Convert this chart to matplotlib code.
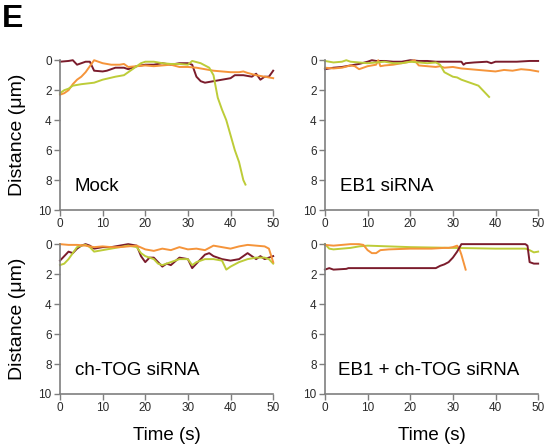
import numpy as np
import matplotlib.pyplot as plt

plt.rcParams['font.family'] = ['Liberation Sans', 'DejaVu Sans']

dark_red = '#7b1c2c'
orange = '#f5943a'
lime = '#bdcc38'

# Mock
mock_red_t = [0, 2, 3, 4, 5, 6, 7, 8, 10, 11, 13, 15, 16, 18, 20, 22, 24, 26, 28, 30, 31, 32, 33, 34, 36, 38, 40, 41, 43, 45, 46, 47, 48, 49, 50]
mock_red_d = [0.1, 0.05, 0.0, 0.3, 0.2, 0.1, 0.1, 0.7, 0.75, 0.7, 0.5, 0.5, 0.6, 0.4, 0.3, 0.3, 0.2, 0.3, 0.2, 0.2, 0.3, 1.1, 1.4, 1.5, 1.4, 1.3, 1.2, 1.0, 1.0, 1.1, 0.9, 1.3, 1.1, 1.1, 0.7]
mock_org_t = [0, 1, 2, 3, 4, 5, 6, 7, 8, 9, 10, 12, 14, 15, 16, 18, 20, 22, 24, 26, 28, 30, 32, 34, 36, 38, 40, 42, 43, 44, 46, 48, 50]
mock_org_d = [2.3, 2.2, 2.0, 1.6, 1.3, 1.1, 0.8, 0.4, 0.0, 0.1, 0.2, 0.3, 0.3, 0.25, 0.45, 0.4, 0.35, 0.4, 0.35, 0.3, 0.45, 0.45, 0.5, 0.6, 0.7, 0.75, 0.8, 0.8, 0.75, 0.85, 1.0, 1.1, 1.2]
mock_lim_t = [0, 1, 2, 3, 5, 8, 10, 13, 15, 16, 17, 18, 19, 20, 22, 24, 26, 28, 30, 31, 33, 35, 36, 37, 38, 39, 40, 41, 42, 43, 43.5]
mock_lim_d = [2.2, 2.0, 1.9, 1.7, 1.6, 1.5, 1.3, 1.1, 1.0, 0.8, 0.6, 0.4, 0.2, 0.1, 0.1, 0.2, 0.25, 0.25, 0.3, 0.05, 0.2, 0.5, 1.0, 2.5, 3.3, 4.0, 5.0, 6.0, 6.8, 8.0, 8.3]

# EB1 siRNA
eb1_red_t = [0, 2, 4, 6, 8, 10, 11, 12, 14, 16, 18, 20, 22, 24, 26, 28, 30, 32, 32.5, 33, 35, 38, 39, 40, 42, 45, 48, 50]
eb1_red_d = [0.6, 0.5, 0.45, 0.35, 0.25, 0.1, 0.0, 0.05, 0.05, 0.1, 0.1, 0.0, 0.05, 0.05, 0.1, 0.1, 0.1, 0.1, 0.3, 0.2, 0.15, 0.1, 0.2, 0.1, 0.1, 0.1, 0.05, 0.05]
eb1_org_t = [0, 2, 4, 6, 7, 8, 9, 10, 12, 12.5, 13, 14, 16, 18, 20, 21, 22, 24, 26, 27, 28, 30, 32, 34, 36, 38, 40, 42, 44, 46, 48, 50]
eb1_org_d = [0.5, 0.55, 0.5, 0.35, 0.4, 0.6, 0.5, 0.4, 0.3, 0.0, 0.4, 0.35, 0.3, 0.2, 0.1, 0.0, 0.35, 0.4, 0.45, 0.4, 0.5, 0.45, 0.55, 0.6, 0.65, 0.7, 0.75, 0.65, 0.7, 0.6, 0.65, 0.75]
eb1_lim_t = [0, 2, 4, 5, 6, 8, 10, 12, 14, 16, 18, 20, 22, 24, 26, 27, 28, 30, 31, 32, 34, 36, 37, 38, 38.5]
eb1_lim_d = [0.05, 0.15, 0.1, 0.0, 0.1, 0.15, 0.2, 0.15, 0.1, 0.2, 0.2, 0.1, 0.15, 0.2, 0.15, 0.3, 0.8, 1.1, 1.15, 1.3, 1.5, 1.7, 2.0, 2.3, 2.45]

# ch-TOG siRNA
tog_org_t = [0, 2, 4, 6, 8, 10, 12, 14, 16, 18, 20, 22, 24, 26, 28, 30, 32, 34, 36, 38, 40, 42, 44, 46, 48, 49, 50]
tog_org_d = [0.0, 0.05, 0.05, 0.1, 0.2, 0.15, 0.2, 0.2, 0.15, 0.1, 0.35, 0.45, 0.3, 0.4, 0.2, 0.35, 0.3, 0.4, 0.1, 0.2, 0.3, 0.15, 0.05, 0.1, 0.15, 0.3, 1.2]
tog_red_t = [0, 1, 2, 3, 4, 5, 6, 7, 8, 10, 12, 14, 16, 18, 19, 20, 21, 22, 24, 25, 26, 28, 30, 31, 32, 34, 35, 36, 38, 40, 42, 44, 46, 47, 48, 50]
tog_red_d = [1.1, 0.8, 0.5, 0.6, 0.3, 0.1, 0.0, 0.1, 0.3, 0.2, 0.2, 0.1, 0.0, 0.1, 0.8, 1.2, 0.9, 0.9, 1.5, 1.3, 1.4, 0.9, 1.0, 1.6, 1.3, 0.7, 0.6, 0.8, 1.0, 1.1, 1.0, 0.6, 1.0, 0.8, 1.0, 0.8]
tog_lim_t = [0, 1, 2, 3, 4, 5, 6, 7, 8, 10, 12, 14, 16, 18, 19, 20, 22, 23, 24, 26, 28, 30, 31, 32, 34, 36, 38, 39, 40, 42, 44, 46, 48, 49, 50]
tog_lim_d = [1.4, 1.3, 1.0, 0.6, 0.2, 0.1, 0.05, 0.2, 0.5, 0.4, 0.3, 0.2, 0.1, 0.2, 0.6, 0.8, 1.0, 1.3, 1.4, 1.2, 1.0, 1.0, 1.4, 1.2, 1.0, 1.0, 1.1, 1.7, 1.5, 1.2, 1.0, 0.9, 0.9, 1.0, 1.3]

# EB1 + ch-TOG siRNA
dbl_lim_t = [0, 1, 2, 4, 6, 8, 10, 15, 20, 30, 40, 47, 48, 49, 50]
dbl_lim_d = [0.0, 0.3, 0.35, 0.3, 0.25, 0.15, 0.1, 0.15, 0.2, 0.25, 0.3, 0.3, 0.4, 0.55, 0.5]
dbl_org_t = [0, 2, 4, 6, 8, 9, 10, 11, 12, 13, 15, 20, 25, 28, 29, 30, 31, 31.5, 32, 32.5, 33]
dbl_org_d = [0.05, 0.1, 0.05, 0.0, 0.0, 0.05, 0.4, 0.6, 0.6, 0.4, 0.35, 0.3, 0.3, 0.25, 0.25, 0.2, 0.1, 0.3, 0.7, 1.2, 1.7]
dbl_red_t = [0, 1, 2, 5, 5.5, 10, 20, 26, 27, 28, 29, 30, 31, 32, 40, 47, 47.5, 48, 49, 50]
dbl_red_d = [1.7, 1.6, 1.7, 1.65, 1.6, 1.6, 1.6, 1.6, 1.45, 1.35, 1.2, 0.9, 0.5, 0.0, 0.0, 0.0, 0.1, 1.2, 1.3, 1.3]

panels = [
    ('Mock', [(mock_red_t, mock_red_d, dark_red), (mock_org_t, mock_org_d, orange), (mock_lim_t, mock_lim_d, lime)]),
    ('EB1 siRNA', [(eb1_red_t, eb1_red_d, dark_red), (eb1_org_t, eb1_org_d, orange), (eb1_lim_t, eb1_lim_d, lime)]),
    ('ch-TOG siRNA', [(tog_red_t, tog_red_d, dark_red), (tog_lim_t, tog_lim_d, lime), (tog_org_t, tog_org_d, orange)]),
    ('EB1 + ch-TOG siRNA', [(dbl_lim_t, dbl_lim_d, lime), (dbl_org_t, dbl_org_d, orange), (dbl_red_t, dbl_red_d, dark_red)]),
]

fig = plt.figure(figsize=(5.48, 4.46), dpi=100)
positions = [
    [0.1095, 0.529, 0.389, 0.336],
    [0.593, 0.529, 0.389, 0.336],
    [0.1095, 0.1166, 0.389, 0.336],
    [0.593, 0.1166, 0.389, 0.336],
]

for i, (name, series) in enumerate(panels):
    ax = fig.add_axes(positions[i])
    for t, d, c in series:
        ax.plot(t, d, color=c, lw=1.4, clip_on=False)
    ax.set_xlim(0, 50)
    ax.set_ylim(10, 0)
    ax.set_xticks(np.arange(0, 51, 10))
    ax.set_yticks(np.arange(0, 11, 2))
    for s in ['top', 'right']:
        ax.spines[s].set_visible(False)
    for s in ['left', 'bottom']:
        ax.spines[s].set_color('#7f7f7f')
        ax.spines[s].set_linewidth(1.2)
    ax.tick_params(colors='#7f7f7f', labelcolor='#2a2a2a', labelsize=8.5, length=4, width=1.0, pad=2)
    ax.text(0.07 if i != 3 else 0.06, 0.16, name, transform=ax.transAxes, fontsize=13.5, color='black', va='center')
    if i % 2 == 0:
        ax.set_ylabel('Distance (\u03bcm)', fontsize=14, labelpad=9)
    if i >= 2:
        ax.set_xlabel('Time (s)', fontsize=13.5, labelpad=9)

fig.text(0.004, 0.99, 'E', fontsize=23, fontweight='bold', va='top', ha='left')

fig.savefig('out.png', dpi=100)
